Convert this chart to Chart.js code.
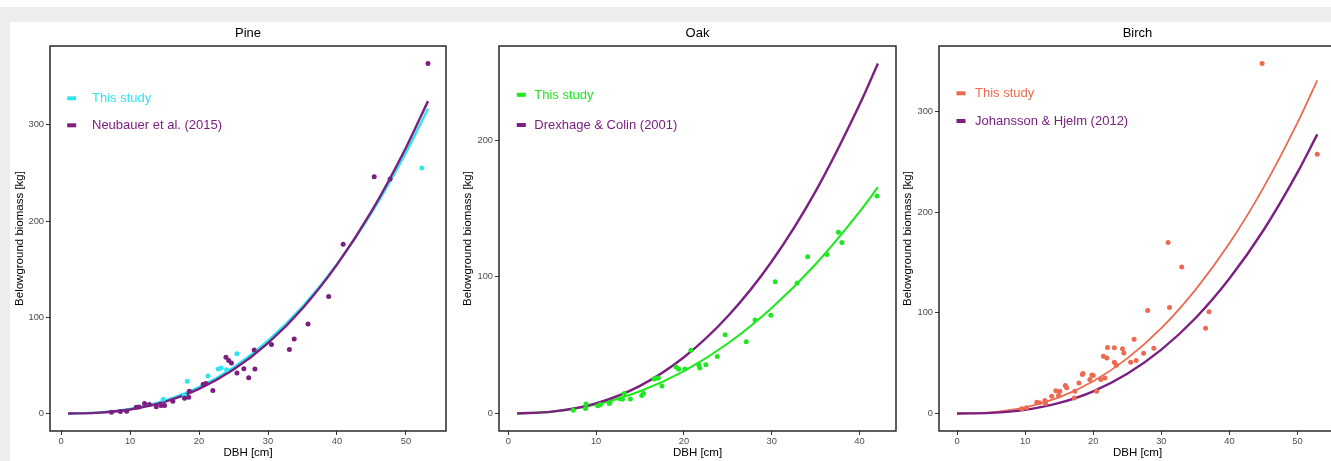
<!DOCTYPE html>
<html><head><meta charset="utf-8">
<script src="https://cdn.jsdelivr.net/npm/chart.js@4.4.1/dist/chart.umd.min.js"></script>
<style>
html,body{margin:0;padding:0;width:1331px;height:461px;overflow:hidden;background:#fff;}
#bgTop{position:absolute;left:0;top:7px;width:1331px;height:15px;background:#ededed;}
#bgLeft{position:absolute;left:0;top:22px;width:10px;height:439px;background:#ededed;}
canvas{position:absolute;top:22px;}
</style></head>
<body>
<div id="bgTop"></div><div id="bgLeft"></div>
<canvas id="pine" width="448" height="439" style="left:2px"></canvas>
<canvas id="oak" width="450" height="439" style="left:450px"></canvas>
<canvas id="birch" width="450" height="439" style="left:890px"></canvas>
<script>
// ---------- Data ----------
const xTicksPine = [0, 10, 20, 30, 40, 50];
const xTicksOak = [0, 10, 20, 30, 40];
const xTicksBirch = [0, 10, 20, 30, 40, 50];
const yTicksPine = [0, 100, 200, 300];
const yTicksOak = [0, 100, 200];
const yTicksBirch = [0, 100, 200, 300];

// Pine fitted curves
const pineCurveDBH = [1, 5, 10, 15, 20, 25, 30, 35, 40, 45, 50, 53.2];
const pineStudyCurve = [0.02, 0.86, 4.85, 13.4, 27.4, 47.9, 75.6, 111.1, 155.2, 208.5, 271.2, 316.7];
const pineNeubauerCurve = [0.01, 0.69, 4.2, 12.1, 25.5, 45.6, 73.2, 109.2, 154.7, 210.0, 276.3, 324.7];
// Pine observations
const pineStudyPtDBH = [52.3, 25.5, 24.0, 23.2, 22.8, 21.3, 18.3, 17.9, 14.8];
const pineStudyPtBio = [255.2, 62.0, 45.5, 47.3, 46.2, 39.0, 33.5, 18.7, 14.8];
const pineNeubauerPtDBH = [53.2, 47.7, 45.4, 40.9, 38.8, 35.8, 33.8, 33.1, 30.5, 28.0, 28.1, 27.2, 26.5, 25.5, 23.9, 24.3, 24.7, 22.0, 21.0, 20.6, 18.6, 18.5, 17.9, 16.2, 15.0, 14.5, 13.8, 12.8, 12.1, 10.9, 11.3, 9.5, 8.6, 7.3];
const pineNeubauerPtBio = [363.8, 243.8, 246.2, 176.0, 121.7, 93.0, 77.5, 66.4, 71.6, 66.1, 46.2, 37.2, 46.4, 42.2, 58.4, 55.0, 52.6, 23.9, 31.1, 30.5, 23.0, 17.0, 15.9, 12.6, 8.4, 8.3, 7.0, 9.3, 10.4, 6.4, 6.8, 2.3, 2.1, 1.4];

// Oak fitted curves
const oakCurveDBH = [1, 5, 10, 15, 20, 25, 30, 35, 40, 42.1];
const oakStudyCurve = [0.04, 1.37, 6.52, 16.2, 31.0, 51.2, 77.2, 109.2, 147.5, 165.5];
const oakDrexhageCurve = [0.03, 1.36, 7.46, 20.2, 41.1, 71.1, 111.2, 162.5, 225.8, 256.0];
// Oak observations
const oakPtDBH = [42.0, 38.0, 37.6, 36.3, 34.1, 32.9, 30.4, 29.9, 28.1, 27.1, 24.7, 23.8, 22.5, 21.7, 21.8, 20.8, 20.1, 19.1, 19.4, 17.5, 16.6, 16.9, 17.1, 15.4, 15.2, 13.9, 13.2, 12.7, 13.0, 11.6, 11.5, 10.5, 10.2, 8.85, 8.8, 7.4];
const oakPtBio = [159.1, 125.1, 132.6, 116.3, 114.6, 95.4, 96.4, 71.8, 68.4, 52.4, 57.6, 41.7, 35.6, 35.5, 33.3, 46.3, 32.6, 34.1, 32.6, 20.1, 25.3, 25.8, 26.0, 14.7, 13.1, 10.6, 14.6, 10.7, 10.4, 8.2, 7.3, 6.6, 5.6, 7.0, 3.6, 2.3];

// Birch fitted curves
const birchCurveDBH = [0, 5, 10, 15, 20, 25, 30, 35, 40, 45, 50, 52.9];
const birchStudyCurve = [0, 1.15, 6.08, 16.1, 32.1, 54.8, 84.8, 122.9, 169.2, 224.6, 289.2, 331.3];
const birchJohanssonCurve = [0, 0.60, 3.65, 10.5, 22.1, 39.5, 63.5, 94.7, 134.2, 182.2, 239.7, 277.5];
// Birch observations
const birchPtDBH = [44.8, 52.9, 31.0, 33.0, 31.2, 28.0, 37.0, 36.5, 26.0, 28.9, 22.1, 23.1, 24.3, 21.5, 22.0, 24.5, 27.4, 23.1, 23.4, 25.5, 26.3, 19.5, 20.0, 18.4, 18.5, 19.8, 17.9, 20.5, 21.1, 21.7, 15.9, 16.1, 17.2, 17.3, 14.5, 15.1, 14.9, 13.9, 12.9, 13.0, 11.7, 12.1, 10.2, 9.5];
const birchPtBio = [348.0, 257.7, 169.9, 145.6, 105.3, 102.3, 101.2, 84.7, 73.9, 64.9, 65.6, 65.4, 64.3, 56.8, 55.2, 60.2, 59.8, 50.9, 48.0, 51.0, 52.6, 33.7, 37.7, 38.7, 39.7, 38.4, 30.4, 22.1, 33.7, 35.4, 27.9, 25.6, 15.5, 22.2, 22.5, 22.2, 17.8, 17.2, 12.9, 9.9, 11.2, 10.6, 5.6, 4.6];

// ---------- Rendering ----------
const FONT = '"Liberation Sans", Arial, Helvetica, sans-serif';
Chart.defaults.font.family = FONT;

const toXY = (xs, ys) => xs.map((x, i) => ({x: x, y: ys[i]}));

const panelDecor = {
  id: 'panelDecor',
  afterDraw(chart, args, o) {
    const {ctx, chartArea: a} = chart;
    ctx.save();
    ctx.strokeStyle = '#1a1a1a';
    ctx.lineWidth = 1.4;
    ctx.strokeRect(a.left, a.top, a.right - a.left, a.bottom - a.top);
    ctx.fillStyle = '#000';
    ctx.font = '13px ' + FONT;
    ctx.textAlign = 'center';
    ctx.textBaseline = 'middle';
    ctx.fillText(o.title, (a.left + a.right) / 2, a.top - 13);
    ctx.font = '13px ' + FONT;
    ctx.textAlign = 'left';
    o.items.forEach(it => {
      const ds = chart.data.datasets[it.ds];
      const y = a.top + it.dy;
      ctx.fillStyle = ds.borderColor;
      ctx.fillRect(a.left + o.keyX - 4.5, y - 2, 9, 4);
      ctx.fillText(ds.label, a.left + o.textX, y + 0.5);
    });
    ctx.restore();
  }
};

function makeAxis(min, max, ticksArr, titleText, horizontal, size) {
  return {
    type: 'linear',
    min: min, max: max,
    afterBuildTicks: s => { s.ticks = ticksArr.map(v => ({value: v})); },
    afterFit: s => { if (horizontal) s.height = size; else s.width = size; },
    ticks: {color: '#4d4d4d', font: {size: 9.3}, padding: horizontal ? 1 : 2, maxRotation: 0, autoSkip: false},
    grid: {display: true, drawOnChartArea: false, drawTicks: true, tickLength: 4, tickColor: '#333', tickWidth: 1},
    border: {display: false},
    title: {display: true, text: titleText, color: '#000', font: {size: 11.5},
            padding: horizontal ? {top: 0, bottom: 1.1} : {top: 11.1, bottom: 0}}
  };
}

function curveDS(label, xs, ys, color, width, order) {
  return {label: label, data: toXY(xs, ys), showLine: true, pointRadius: 0, borderColor: color,
          backgroundColor: color, borderWidth: width, cubicInterpolationMode: 'monotone', order: order};
}
function pointDS(label, xs, ys, color, order) {
  return {label: label, data: toXY(xs, ys), showLine: false, pointRadius: 2.5, pointBorderWidth: 0,
          borderColor: color, backgroundColor: color, order: order};
}

function panel(id, datasets, xr, yr, xt, yt, yWidth, padRight, decor) {
  new Chart(document.getElementById(id), {
    type: 'scatter',
    data: {datasets: datasets},
    options: {
      responsive: false, animation: false, events: [],
      layout: {padding: {top: 24, right: padRight, bottom: 0, left: 0}},
      scales: {
        x: makeAxis(xr[0], xr[1], xt, 'DBH [cm]', true, 30),
        y: makeAxis(yr[0], yr[1], yt, 'Belowground biomass [kg]', false, yWidth)
      },
      plugins: {legend: {display: false}, tooltip: {enabled: false}, panelDecor: decor}
    },
    plugins: [panelDecor]
  });
}

const CYAN = '#2ee6ee', PURPLE = '#7b1f80', GREEN = '#1fe81f', CORAL = '#ec6a4f';

panel('pine', [
  curveDS('This study', pineCurveDBH, pineStudyCurve, CYAN, 2.4, 3),
  curveDS('Neubauer et al. (2015)', pineCurveDBH, pineNeubauerCurve, PURPLE, 2.4, 2),
  pointDS('This study points', pineStudyPtDBH, pineStudyPtBio, CYAN, 1),
  pointDS('Neubauer et al. (2015) points', pineNeubauerPtDBH, pineNeubauerPtBio, PURPLE, 0)
], [-1.61, 55.81], [-18.2, 382.0], xTicksPine, yTicksPine, 48, 3,
  {title: 'Pine', keyX: 21.7, textX: 42, items: [{ds: 0, dy: 52.3}, {ds: 1, dy: 79.3}]});

panel('oak', [
  curveDS('This study', oakCurveDBH, oakStudyCurve, GREEN, 2.1, 3),
  curveDS('Drexhage & Colin (2001)', oakCurveDBH, oakDrexhageCurve, PURPLE, 2.4, 2),
  pointDS('This study points', oakPtDBH, oakPtBio, GREEN, 0)
], [-1.06, 44.16], [-12.8, 268.8], xTicksOak, yTicksOak, 49, 4,
  {title: 'Oak', keyX: 22.3, textX: 35.3, items: [{ds: 0, dy: 48.8}, {ds: 1, dy: 79.0}]});

panel('birch', [
  curveDS('This study', birchCurveDBH, birchStudyCurve, CORAL, 1.8, 3),
  curveDS('Johansson & Hjelm (2012)', birchCurveDBH, birchJohanssonCurve, PURPLE, 2.4, 2),
  pointDS('This study points', birchPtDBH, birchPtBio, CORAL, 0)
], [-2.65, 55.65], [-17.4, 365.4], xTicksBirch, yTicksBirch, 49, 4,
  {title: 'Birch', keyX: 22, textX: 36, items: [{ds: 0, dy: 47.3}, {ds: 1, dy: 75.0}]});
</script>
</body></html>
